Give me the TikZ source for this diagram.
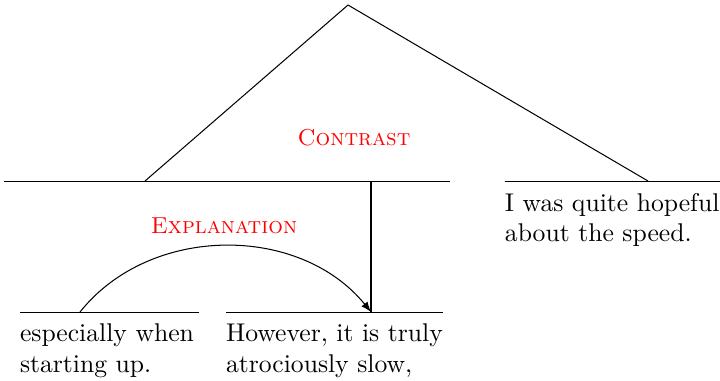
\documentclass[tikz,border=0pt]{standalone}
\usepackage{tikz}
\usetikzlibrary{arrows.meta, positioning, calc}

\begin{document}
\begin{tikzpicture}[
	x=0.39pt, y=-0.39pt,
	bar/.style={rectangle,draw,inner sep=0pt,minimum height=0pt},
	edu/.style={align=left,inner sep=0pt,anchor=north west},
	rel/.style={text=red,font=\small\scshape},
	arrow/.style={-latex}
]
\useasboundingbox (0,0) rectangle (720,380);

% Top relation
\coordinate (top) at (348,5);
\node[bar, minimum width=173.9pt] (b12) at (227,181) {};
\node[bar, minimum width=83.9pt] (b3) at (612.5,181) {};
\coordinate (c12) at (145,181);
\coordinate (c3) at (648,181);
\draw (top) -- (c12);
\draw (top) -- (c3);
\node[rel] (contrast) at (354,138) {Contrast};

% Segment 3
\node[edu] (t3) at ([yshift=-4.5pt]b3.west) {I was quite hopeful\\about the speed.};

% Lower relation
\node[bar, minimum width=69.8pt] (b1) at (109.5,312) {};
\node[bar, minimum width=84.6pt] (b2) at (334.5,312) {};
\coordinate (nuc) at (371,312);
\coordinate (sat) at (80,312);
\draw (nuc |- b12) -- (nuc);
\draw[arrow] (sat) .. controls (150,224) and (300,224) .. (nuc);
\node[rel] (explanation) at (224,226) {Explanation};

% Segments 1 and 2
\node[edu] (t1) at ([yshift=-4.5pt]b1.west) {especially when\\starting up.};
\node[edu] (t2) at ([yshift=-4.5pt]b2.west) {However, it is truly\\atrociously slow,};

\end{tikzpicture}
\end{document}
